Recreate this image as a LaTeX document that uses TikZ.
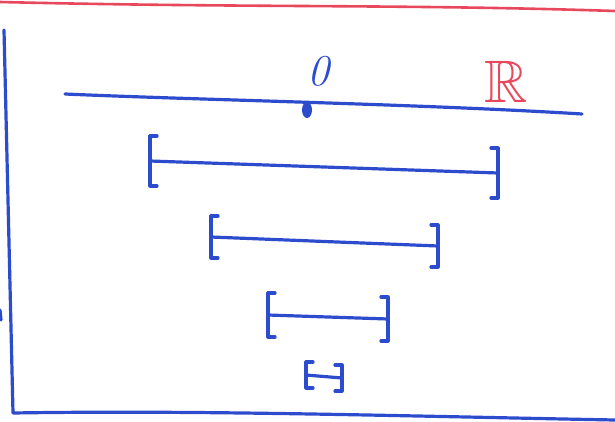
\documentclass[tikz,border=0pt]{standalone}
\usepackage{amssymb}
\usetikzlibrary{positioning}

\definecolor{penblue}{RGB}{45,75,205}
\definecolor{penred}{RGB}{232,72,92}

\begin{document}
\begin{tikzpicture}[x=1pt, y=-1pt, line cap=round, line join=round,
  pen/.style={penblue, line width=3.2pt},
  every node/.style={inner sep=0pt}]
  \useasboundingbox (0,0) rectangle (615,422);
  % frame of the page
  \draw[penred, line width=2.6pt] (0,2) .. controls (250,8) and (400,4) .. (615,11);
  \draw[pen] (4,30) -- (13,413) .. controls (200,410) and (400,416) .. (615,420);
  \draw[pen] (0,310) -- (1,320);
  % the real line
  \coordinate (r0) at (65,94);
  \coordinate (r1) at (582,114);
  \draw[pen] (r0) .. controls (200,100) and (420,104) .. (r1);
  \fill[penblue] (307,110) ellipse (5 and 8);
  \node[penblue, font=\fontsize{44}{44}\selectfont\itshape] (zero) at (318,71) {0};
  \node[penred, font=\fontsize{60}{60}\selectfont] (reals) at (506,82) {$\mathbb{R}$};
  % nested intervals
  \foreach \i/\a/\b/\y/\t/\h in {1/150/498/161/12/25, 2/211/438/237/9/21,
                                 3/268/388/315/4/22, 4/306/342/375/3/13} {
    \coordinate (a\i) at (\a,\y);
    \coordinate (b\i) at (\b,\y+\t);
    \draw[pen] (a\i) -- (b\i);
    \draw[pen] ([xshift=7pt, yshift=\h pt]a\i) -- ++(-7,0) -- ++(0,2*\h) -- ++(7,0);
    \draw[pen] ([xshift=-7pt, yshift=\h pt]b\i) -- ++(7,0) -- ++(0,2*\h) -- ++(-7,0);
  }
\end{tikzpicture}
\end{document}
